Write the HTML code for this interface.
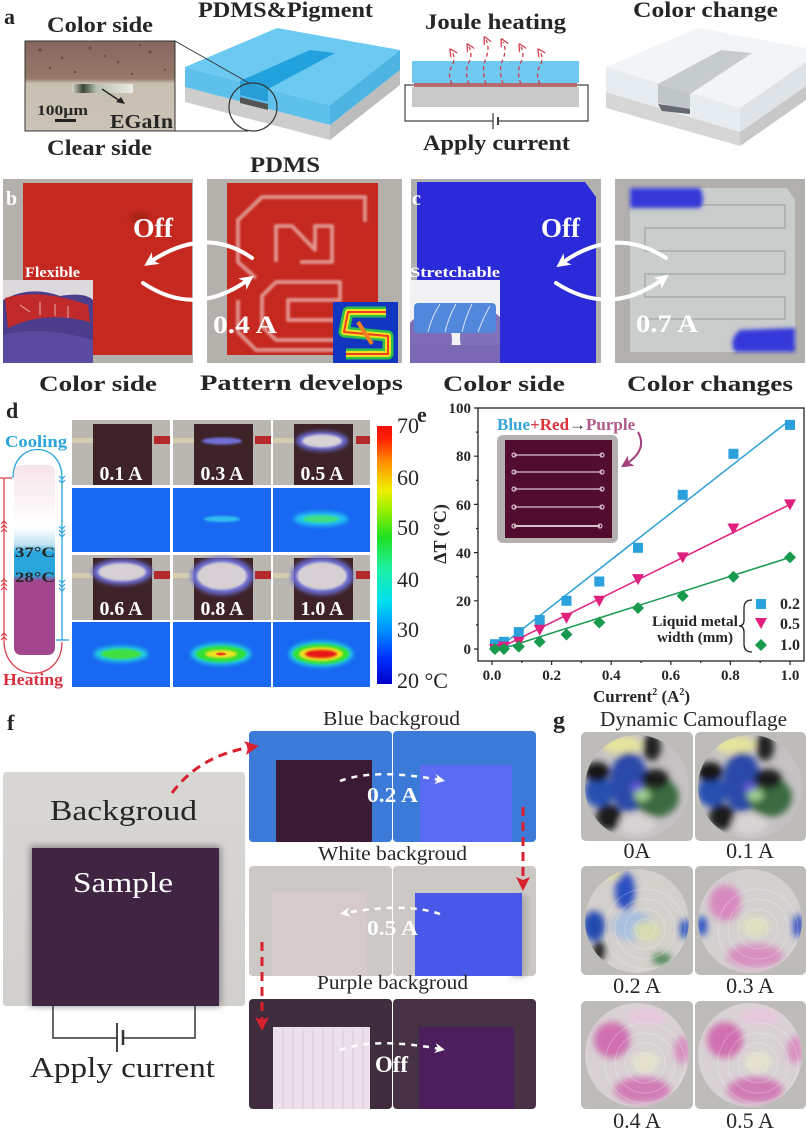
<!DOCTYPE html>
<html><head><meta charset="utf-8">
<style>
html,body{margin:0;padding:0;background:#fff;overflow:hidden;width:806px;height:1131px;}
svg{display:block;}
text{font-family:"Liberation Serif","Times New Roman",serif;fill:#262626;}
.b{font-weight:bold;}
.w{fill:#fff;}
</style></head><body>
<svg width="806" height="1131" viewBox="0 0 806 1131" xmlns="http://www.w3.org/2000/svg">
<defs>
 <filter id="bl1" x="-20%" y="-20%" width="140%" height="140%"><feGaussianBlur stdDeviation="1"/></filter>
 <filter id="bl2" x="-50%" y="-50%" width="200%" height="200%"><feGaussianBlur stdDeviation="2"/></filter>
 <filter id="bl3" x="-50%" y="-50%" width="200%" height="200%"><feGaussianBlur stdDeviation="3.5"/></filter>
 <filter id="bl5" x="-50%" y="-50%" width="200%" height="200%"><feGaussianBlur stdDeviation="5"/></filter>
 <linearGradient id="tube" x1="0" y1="0" x2="0" y2="1">
  <stop offset="0" stop-color="#f6e4ea"/><stop offset="0.33" stop-color="#ffffff"/>
  <stop offset="0.42" stop-color="#bfe2f2"/><stop offset="0.46" stop-color="#2aa6dc"/>
  <stop offset="0.58" stop-color="#2aa6dc"/><stop offset="0.61" stop-color="#a4468e"/>
  <stop offset="1" stop-color="#a4468e"/>
 </linearGradient>
 <linearGradient id="jet" x1="0" y1="1" x2="0" y2="0">
  <stop offset="0" stop-color="#0000c8"/><stop offset="0.1" stop-color="#0030ff"/>
  <stop offset="0.2" stop-color="#0088ff"/><stop offset="0.32" stop-color="#00e0f0"/>
  <stop offset="0.45" stop-color="#20f0a0"/><stop offset="0.57" stop-color="#20e020"/>
  <stop offset="0.68" stop-color="#a0f000"/><stop offset="0.75" stop-color="#f0f000"/>
  <stop offset="0.86" stop-color="#ff9000"/><stop offset="0.95" stop-color="#ff2000"/>
  <stop offset="1" stop-color="#f01010"/>
 </linearGradient>
 <linearGradient id="egain" x1="0" y1="0" x2="1" y2="0">
  <stop offset="0" stop-color="#d8d8cc"/><stop offset="0.18" stop-color="#3c4636"/>
  <stop offset="0.4" stop-color="#b8c0b0"/><stop offset="1" stop-color="#ecece4"/>
 </linearGradient>
 <linearGradient id="micro" x1="0" y1="0" x2="0" y2="1">
  <stop offset="0" stop-color="#86665e"/><stop offset="0.42" stop-color="#977a6c"/>
  <stop offset="0.47" stop-color="#c7bfb0"/><stop offset="1" stop-color="#cbc4b6"/>
 </linearGradient>
 <linearGradient id="fbg" x1="0" y1="0" x2="0" y2="1">
  <stop offset="0" stop-color="#d9d7d4"/><stop offset="1" stop-color="#d2d0cd"/>
 </linearGradient>
 <marker id="wa" markerWidth="14" markerHeight="14" refX="7" refY="7" orient="auto" markerUnits="userSpaceOnUse">
  <path d="M0,0 L14,7 L0,14 L4,7 Z" fill="#fff"/>
 </marker>
 <marker id="wa2" markerWidth="10" markerHeight="10" refX="5" refY="5" orient="auto" markerUnits="userSpaceOnUse">
  <path d="M0,0 L10,5 L0,10 L3,5 Z" fill="#fff"/>
 </marker>
 <marker id="ra" markerWidth="14" markerHeight="14" refX="7" refY="7" orient="auto" markerUnits="userSpaceOnUse">
  <path d="M0,0 L14,7 L0,14 L3,7 Z" fill="#d8202e"/>
 </marker>
 <marker id="rd" markerWidth="8" markerHeight="8" refX="4" refY="4" orient="auto" markerUnits="userSpaceOnUse">
  <path d="M0,0 L8,4 L0,8" fill="none" stroke="#d0404e" stroke-width="1.3"/>
 </marker>
 <marker id="pa" markerWidth="12" markerHeight="12" refX="6" refY="6" orient="auto" markerUnits="userSpaceOnUse">
  <path d="M0,0 L12,6 L0,12 L3,6 Z" fill="#a4407c"/>
 </marker>
 <clipPath id="c1"><circle cx="637" cy="787" r="52"/></clipPath>
 <clipPath id="c2"><circle cx="750" cy="787" r="52"/></clipPath>
 <clipPath id="c3"><circle cx="637" cy="921" r="52"/></clipPath>
 <clipPath id="c4"><circle cx="750" cy="921" r="52"/></clipPath>
 <clipPath id="c5"><circle cx="637" cy="1055" r="52"/></clipPath>
 <clipPath id="c6"><circle cx="750" cy="1055" r="52"/></clipPath>
 <clipPath id="insc"><rect x="410" y="280" width="90" height="83"/></clipPath>
 <clipPath id="insb"><rect x="3" y="280" width="90" height="83"/></clipPath>
</defs>

<!-- ================= Panel a ================= -->
<text x="4" y="24" class="b" font-size="22">a</text>
<text x="47" y="32" class="b" font-size="22" textLength="106" lengthAdjust="spacingAndGlyphs">Color side</text>
<rect x="25" y="41" width="150" height="90" fill="url(#micro)" stroke="#333" stroke-width="1"/>
<g fill="#5a3230" opacity="0.6">
 <circle cx="40" cy="50" r="1.5"/><circle cx="62" cy="58" r="1.2"/><circle cx="90" cy="48" r="1.5"/><circle cx="118" cy="62" r="1.3"/>
 <circle cx="150" cy="52" r="1.5"/><circle cx="165" cy="70" r="1.2"/><circle cx="75" cy="72" r="1.4"/><circle cx="132" cy="74" r="1.2"/>
 <circle cx="50" cy="68" r="1.2"/><circle cx="105" cy="56" r="1"/><circle cx="140" cy="45" r="1"/>
</g>
<rect x="72" y="84" width="61" height="9" fill="url(#egain)"/>
<line x1="102" y1="89" x2="120" y2="101" stroke="#222" stroke-width="1.5"/>
<path d="M125,104 L116,102 L121,97 Z" fill="#222"/>
<text x="37" y="115" class="b" font-size="15" textLength="51" lengthAdjust="spacingAndGlyphs">100µm</text>
<rect x="55" y="119" width="21" height="3" fill="#222"/>
<text x="110" y="128" class="b" font-size="20" textLength="63" lengthAdjust="spacingAndGlyphs">EGaIn</text>
<text x="47" y="155" class="b" font-size="22" textLength="105" lengthAdjust="spacingAndGlyphs">Clear side</text>

<text x="198" y="17" class="b" font-size="22" textLength="175" lengthAdjust="spacingAndGlyphs">PDMS&amp;Pigment</text>
<!-- block 1 -->
<polygon points="185,87 330,125 330,140 185,102" fill="#cdcdcd"/>
<polygon points="330,125 400,70 400,85 330,140" fill="#bdbdbd"/>
<polygon points="185,67 330,105 330,125 185,87" fill="#5ec1ec"/>
<polygon points="330,105 400,50 400,70 330,125" fill="#4eb4e2"/>
<polygon points="185,67 277,28 400,50 330,105" fill="#6ccaf2"/>
<polygon points="310,50 335,53 268,89 240,81" fill="#22a2dc"/>
<polygon points="240,81 268,89 268,102 240,95" fill="#2a9ed6"/>
<polygon points="240,97 268,104 268,110 240,103" fill="#555"/>
<circle cx="253" cy="107" r="24" fill="none" stroke="#333" stroke-width="1.2"/>
<line x1="175" y1="41" x2="249" y2="83" stroke="#333" stroke-width="1"/>
<line x1="175" y1="131" x2="248" y2="131" stroke="#333" stroke-width="1"/>
<text x="250" y="172" class="b" font-size="22" textLength="70" lengthAdjust="spacingAndGlyphs">PDMS</text>

<!-- Joule heating -->
<text x="425" y="29" class="b" font-size="22" textLength="141" lengthAdjust="spacingAndGlyphs">Joule heating</text>
<rect x="412" y="61" width="167" height="22" fill="#6ec8f0"/>
<rect x="412" y="87" width="167" height="20" fill="#c9c9c9"/>
<rect x="414" y="83" width="163" height="4" fill="#b46a6e"/>
<path d="M414,85 H405 V121 H493 M499,121 H588 V85 H577" fill="none" stroke="#444" stroke-width="1.2"/>
<line x1="493" y1="113" x2="493" y2="129" stroke="#444" stroke-width="1.3"/>
<line x1="498" y1="117" x2="498" y2="125" stroke="#444" stroke-width="2"/>
<g fill="none" stroke="#d0404e" stroke-width="1.3" stroke-dasharray="4,3" marker-end="url(#rd)">
 <path d="M452,84 Q447,74 452,66 Q456,58 452,52"/>
 <path d="M469,84 Q464,72 469,62 Q473,54 469,47"/>
 <path d="M486,84 Q481,70 486,58 Q490,48 486,40"/>
 <path d="M503,84 Q498,70 503,59 Q507,50 503,42"/>
 <path d="M521,84 Q516,72 521,62 Q525,54 521,47"/>
 <path d="M540,84 Q535,74 540,66 Q544,58 540,52"/>
</g>
<text x="423" y="150" class="b" font-size="22" textLength="147" lengthAdjust="spacingAndGlyphs">Apply current</text>

<!-- block 2 -->
<text x="633" y="17" class="b" font-size="22" textLength="145" lengthAdjust="spacingAndGlyphs">Color change</text>
<polygon points="606,92 740,132 740,146 606,108" fill="#d6d6d6"/>
<polygon points="740,132 806,86 806,100 740,146" fill="#c8c8c8"/>
<polygon points="606,67 740,108 740,132 606,92" fill="#e6ecef"/>
<polygon points="740,108 806,62 806,86 740,132" fill="#dde3e6"/>
<polygon points="606,67 698,28 806,48 806,62 740,108" fill="#f2f5f7"/>
<polygon points="721,50 752,53 690,94 658,84" fill="#c6cbce"/>
<polygon points="658,84 690,94 690,112 658,103" fill="#c0c5c8"/>
<polygon points="658,104 690,109 690,114 662,111" fill="#646a70"/>

<!-- ================= Panel b ================= -->
<rect x="3" y="179" width="190" height="184" fill="#b4b0ac"/>
<rect x="23" y="183" width="169" height="172" fill="#c4281f"/>
<ellipse cx="140" cy="218" rx="10" ry="6" fill="#a82018" filter="url(#bl2)"/>
<g clip-path="url(#insb)">
<rect x="3" y="280" width="90" height="83" fill="#dcd8dc"/>
<path d="M3,300 Q30,285 60,296 Q85,292 93,300 L93,363 L3,363 Z" fill="#4c3c8c"/>
<path d="M3,335 Q40,325 93,340 L93,363 L3,363 Z" fill="#5a4aa0"/>
<path d="M5,298 Q40,288 88,305 L90,322 Q45,310 8,328 Z" fill="#c12a2a"/>
<path d="M20,305 L30,312 M40,302 L40,315 M55,304 L55,316 M68,306 L68,318" stroke="#e8b0b0" stroke-width="1"/>
</g>
<text x="6" y="205" class="b w" font-size="20">b</text>
<text x="25" y="277" class="b w" font-size="15" textLength="55" lengthAdjust="spacingAndGlyphs">Flexible</text>

<rect x="207" y="179" width="195" height="184" fill="#b4b0ac"/>
<rect x="227" y="183" width="151" height="172" fill="#c4281f"/>
<g fill="none" stroke="#eab4b0" stroke-width="4" stroke-linejoin="round" opacity="0.75" filter="url(#bl1)">
 <path d="M365,222 L365,197 L262,197 L238,220 L238,262 L256,278"/>
 <path d="M276,262 L276,226 L292,226 L315,250 L315,226 L332,226 L332,262 L300,262"/>
 <path d="M340,282 L276,282 L262,296 L262,326 L276,340 L340,340 L340,320 L288,320 L288,300 L340,300 Z"/>
 <path d="M238,300 L238,332 L256,350 L345,350"/>
</g>
<rect x="333" y="302" width="65" height="61" fill="#1236c0"/>
<g fill="none" stroke-linejoin="round">
 <path d="M386,312 L348,312 L344,332 L388,336 L388,354 L346,354" stroke="#2ec048" stroke-width="11"/>
 <path d="M386,312 L348,312 L344,332 L388,336 L388,354 L346,354" stroke="#f0e020" stroke-width="6"/>
 <path d="M386,312 L348,312 L344,332 L388,336 L388,354 L346,354" stroke="#f04020" stroke-width="2"/>
 <path d="M358,322 L372,344" stroke="#f08020" stroke-width="4"/>
</g>
<g fill="none" stroke="#fff" stroke-width="4" stroke-linecap="round">
 <path d="M252,258 Q205,225 150,262" marker-end="url(#wa)"/>
 <path d="M143,283 Q195,318 248,280" marker-end="url(#wa)"/>
</g>
<text x="133" y="237" class="b w" font-size="27" textLength="40" lengthAdjust="spacingAndGlyphs">Off</text>
<text x="213" y="333" class="b w" font-size="25" textLength="64" lengthAdjust="spacingAndGlyphs">0.4 A</text>

<!-- ================= Panel c ================= -->
<rect x="411" y="179" width="190" height="184" fill="#b2b0ad"/>
<polygon points="417,182 585,182 596,197 596,363 417,363" fill="#2b2ad8"/>
<g clip-path="url(#insc)">
<rect x="410" y="280" width="90" height="83" fill="#f2f2f4"/>
<ellipse cx="428" cy="340" rx="24" ry="26" fill="#7e6cb8"/>
<ellipse cx="484" cy="338" rx="24" ry="28" fill="#8070ba"/>
<rect x="410" y="345" width="90" height="18" fill="#7a68b4"/>
<rect x="414" y="303" width="82" height="30" rx="4" fill="#5288dc"/>
<g fill="none" stroke="#d8e4f4" stroke-width="1"><path d="M428,332 Q432,316 440,304 M445,332 Q449,316 456,304 M462,332 Q466,316 472,304 M478,332 Q484,316 490,306"/></g>
</g>
<text x="412" y="205" class="b w" font-size="20">c</text>
<text x="410" y="277" class="b w" font-size="15" textLength="90" lengthAdjust="spacingAndGlyphs">Stretchable</text>

<rect x="615" y="179" width="190" height="184" fill="#b2b0ad"/>
<polygon points="630,188 787,188 795,200 795,345 788,352 630,352" fill="#c9cdcc"/>
<g fill="none" stroke="#a9aeae" stroke-width="2" opacity="0.8">
 <path d="M640,205 H785 V228 H645 V251 H785 V274 H645 V297 H785 V319 H640"/>
</g>
<path d="M630,188 L700,188 Q706,200 700,208 L630,208 Z" fill="#3438d8" filter="url(#bl2)"/>
<path d="M740,330 L795,328 L795,352 L735,352 Q728,340 740,330 Z" fill="#3438d8" filter="url(#bl2)"/>
<g fill="none" stroke="#fff" stroke-width="4" stroke-linecap="round">
 <path d="M666,258 Q615,225 562,263" marker-end="url(#wa)"/>
 <path d="M556,283 Q610,318 663,279" marker-end="url(#wa)"/>
</g>
<text x="541" y="237" class="b w" font-size="27" textLength="39" lengthAdjust="spacingAndGlyphs">Off</text>
<text x="636" y="332" class="b w" font-size="25" textLength="62" lengthAdjust="spacingAndGlyphs">0.7 A</text>

<!-- labels row -->
<text x="39" y="391" class="b" font-size="22" textLength="118" lengthAdjust="spacingAndGlyphs">Color side</text>
<text x="200" y="390" class="b" font-size="22" textLength="203" lengthAdjust="spacingAndGlyphs">Pattern  develops</text>
<text x="443" y="391" class="b" font-size="22" textLength="122" lengthAdjust="spacingAndGlyphs">Color side</text>
<text x="627" y="391" class="b" font-size="22" textLength="166" lengthAdjust="spacingAndGlyphs">Color changes</text>

<!-- ================= Panel d ================= -->
<text x="6" y="418" class="b" font-size="22">d</text>
<text x="5" y="447" class="b" font-size="17" style="fill:#2aa4dc" textLength="62" lengthAdjust="spacingAndGlyphs">Cooling</text>
<path d="M13,478 C13,440 62,440 62,478 L62,640" fill="none" stroke="#2aa4dc" stroke-width="1.3"/>
<line x1="56" y1="640" x2="69" y2="640" stroke="#2aa4dc" stroke-width="1.3"/>
<path d="M0,478 L12,478 M4,478 L4,640 C4,684 62,684 62,642" fill="none" stroke="#d8404e" stroke-width="1.3"/>
<g fill="none" stroke="#2aa4dc" stroke-width="1.2">
 <path d="M59,476 L62,479 L65,476 M59,480 L62,483 L65,480"/>
 <path d="M59,526 L62,529 L65,526 M59,530 L62,533 L65,530 M59,534 L62,537 L65,534"/>
 <path d="M59,580 L62,583 L65,580 M59,584 L62,587 L65,584 M59,588 L62,591 L65,588"/>
</g>
<g fill="none" stroke="#d8404e" stroke-width="1.2">
 <path d="M1,524 L4,521 L7,524 M1,528 L4,525 L7,528 M1,532 L4,529 L7,532"/>
 <path d="M1,582 L4,579 L7,582 M1,586 L4,583 L7,586 M1,590 L4,587 L7,590"/>
 <path d="M1,636 L4,633 L7,636 M1,640 L4,637 L7,640"/>
</g>
<rect x="14" y="465" width="41" height="190" rx="7" fill="url(#tube)"/>
<text x="15" y="557" class="b" font-size="15" textLength="40" lengthAdjust="spacingAndGlyphs">37°C</text>
<text x="15" y="582" class="b" font-size="15" textLength="40" lengthAdjust="spacingAndGlyphs">28°C</text>
<text x="3" y="685" class="b" font-size="17" style="fill:#d8303e" textLength="60" lengthAdjust="spacingAndGlyphs">Heating</text>

<g>
 <rect x="72" y="420" width="98" height="65" fill="#bab7b1"/>
 <rect x="173" y="420" width="98" height="65" fill="#bab7b1"/>
 <rect x="273" y="420" width="97" height="65" fill="#bab7b1"/>
 <rect x="72" y="555" width="98" height="65" fill="#bab7b1"/>
 <rect x="173" y="555" width="98" height="65" fill="#bab7b1"/>
 <rect x="273" y="555" width="97" height="65" fill="#bab7b1"/>
 <g fill="#d4cdb0">
  <rect x="72" y="438" width="22" height="5"/><rect x="173" y="438" width="22" height="5"/><rect x="273" y="438" width="22" height="5"/>
  <rect x="72" y="573" width="22" height="5"/><rect x="173" y="573" width="22" height="5"/><rect x="273" y="573" width="22" height="5"/>
 </g>
 <g fill="#b42a2c">
  <rect x="154" y="436" width="16" height="8"/><rect x="255" y="436" width="16" height="8"/><rect x="356" y="436" width="14" height="8"/>
  <rect x="154" y="571" width="16" height="8"/><rect x="255" y="571" width="16" height="8"/><rect x="356" y="571" width="14" height="8"/>
 </g>
 <g fill="#3d2228">
  <rect x="93" y="424" width="59" height="61"/><rect x="194" y="424" width="59" height="61"/><rect x="294" y="424" width="59" height="61"/>
  <rect x="93" y="558" width="59" height="62"/><rect x="194" y="558" width="59" height="62"/><rect x="294" y="558" width="59" height="62"/>
 </g>
 <ellipse cx="222" cy="441" rx="20" ry="3.5" fill="#7070d8" filter="url(#bl1)"/>
 <ellipse cx="322" cy="441" rx="26" ry="10" fill="#6a6ad0" filter="url(#bl2)"/>
 <ellipse cx="322" cy="441" rx="20" ry="6.5" fill="#d8d2d6" filter="url(#bl1)"/>
 <ellipse cx="122" cy="572" rx="30" ry="13" fill="#6a6ad0" filter="url(#bl2)"/>
 <ellipse cx="122" cy="572" rx="24" ry="9" fill="#d6d0d4" filter="url(#bl1)"/>
 <ellipse cx="222" cy="576" rx="31" ry="19" fill="#6a6ad0" filter="url(#bl2)"/>
 <ellipse cx="222" cy="576" rx="25" ry="14" fill="#d6d0d4" filter="url(#bl1)"/>
 <ellipse cx="322" cy="576" rx="31" ry="19" fill="#6a6ad0" filter="url(#bl2)"/>
 <ellipse cx="322" cy="576" rx="25" ry="14" fill="#d6d0d4" filter="url(#bl1)"/>
 <g class="b" font-size="20" text-anchor="middle">
  <text x="121" y="480" class="b w" textLength="43" lengthAdjust="spacingAndGlyphs">0.1 A</text>
  <text x="222" y="480" class="b w" textLength="43" lengthAdjust="spacingAndGlyphs">0.3 A</text>
  <text x="322" y="480" class="b w" textLength="43" lengthAdjust="spacingAndGlyphs">0.5 A</text>
  <text x="121" y="615" class="b w" textLength="43" lengthAdjust="spacingAndGlyphs">0.6 A</text>
  <text x="222" y="615" class="b w" textLength="43" lengthAdjust="spacingAndGlyphs">0.8 A</text>
  <text x="322" y="615" class="b w" textLength="43" lengthAdjust="spacingAndGlyphs">1.0 A</text>
 </g>
</g>
<g>
 <rect x="72" y="488" width="98" height="64" fill="#1868f2"/>
 <rect x="173" y="488" width="98" height="64" fill="#1868f2"/>
 <rect x="273" y="488" width="97" height="64" fill="#1868f2"/>
 <rect x="72" y="622" width="98" height="65" fill="#1868f2"/>
 <rect x="173" y="622" width="98" height="65" fill="#1868f2"/>
 <rect x="273" y="622" width="97" height="65" fill="#1868f2"/>
 <ellipse cx="222" cy="519" rx="18" ry="3" fill="#30c0f0" filter="url(#bl1)"/>
 <ellipse cx="321" cy="519" rx="27" ry="7" fill="#20c8f0" filter="url(#bl2)"/>
 <ellipse cx="321" cy="519" rx="18" ry="3.5" fill="#40e080" filter="url(#bl1)"/>
 <ellipse cx="121" cy="654" rx="27" ry="8" fill="#20d0e0" filter="url(#bl2)"/>
 <ellipse cx="121" cy="654" rx="20" ry="5" fill="#40e040" filter="url(#bl1)"/>
 <ellipse cx="221" cy="654" rx="30" ry="11" fill="#20d0e0" filter="url(#bl2)"/>
 <ellipse cx="221" cy="654" rx="25" ry="8" fill="#30e030" filter="url(#bl1)"/>
 <ellipse cx="221" cy="654" rx="16" ry="4" fill="#f0e020" filter="url(#bl1)"/>
 <ellipse cx="221" cy="654" rx="5" ry="1.5" fill="#f04020"/>
 <ellipse cx="321" cy="654" rx="32" ry="13" fill="#20d0e0" filter="url(#bl2)"/>
 <ellipse cx="321" cy="654" rx="28" ry="10" fill="#30e030" filter="url(#bl1)"/>
 <ellipse cx="321" cy="654" rx="22" ry="7" fill="#f0e020" filter="url(#bl1)"/>
 <ellipse cx="321" cy="654" rx="16" ry="4" fill="#e81818" filter="url(#bl1)"/>
</g>
<rect x="377" y="426" width="15" height="258" fill="url(#jet)"/>
<g font-size="22">
 <text x="397" y="433">70</text><text x="397" y="485">60</text><text x="397" y="535">50</text>
 <text x="397" y="587">40</text><text x="397" y="637">30</text><text x="397" y="688">20 °C</text>
</g>

<!-- ================= Panel e ================= -->
<text x="417" y="422" class="b" font-size="22">e</text>
<rect x="478" y="408" width="326" height="253" fill="none" stroke="#222" stroke-width="1.3"/>
<g stroke="#222" stroke-width="1.2">
 <path d="M474,649 H478 M474,600.8 H478 M474,552.6 H478 M474,504.4 H478 M474,456.2 H478 M474,408 H478"/>
 <path d="M476,624.9 H478 M476,576.7 H478 M476,528.5 H478 M476,480.3 H478 M476,432.1 H478"/>
 <path d="M492,661 V665 M551.6,661 V665 M611.2,661 V665 M670.8,661 V665 M730.4,661 V665 M790,661 V665"/>
 <path d="M521.8,661 V663 M581.4,661 V663 M641,661 V663 M700.6,661 V663 M760.2,661 V663"/>
</g>
<g class="b" font-size="15" text-anchor="end">
 <text x="471" y="654" class="b">0</text><text x="471" y="606" class="b">20</text>
 <text x="471" y="558" class="b">40</text><text x="471" y="510" class="b">60</text>
 <text x="471" y="461" class="b">80</text><text x="471" y="413" class="b">100</text>
</g>
<g font-size="15" text-anchor="middle">
 <text x="492" y="680" class="b">0.0</text><text x="551.6" y="680" class="b">0.2</text>
 <text x="611.2" y="680" class="b">0.4</text><text x="670.8" y="680" class="b">0.6</text>
 <text x="730.4" y="680" class="b">0.8</text><text x="790" y="680" class="b">1.0</text>
</g>
<text x="593" y="702" class="b" font-size="17">Current<tspan font-size="10" dy="-7">2</tspan><tspan dy="7"> (A</tspan><tspan font-size="10" dy="-7">2</tspan><tspan dy="7">)</tspan></text>
<text transform="translate(446,534) rotate(-90)" class="b" font-size="18" text-anchor="middle">ΔT (°C)</text>

<rect x="497" y="435" width="121" height="108" rx="6" fill="#b4b0b0"/>
<rect x="505" y="440" width="107" height="98" fill="#520c30"/>
<g stroke="#d8c0cc" stroke-width="1.2" fill="none">
 <path d="M514,455 H602 M514,472 H602 M514,489 H602 M514,507 H602"/>
 <path d="M514,526 H600" stroke-width="2"/>
 <circle cx="514" cy="455" r="2"/><circle cx="514" cy="472" r="2"/><circle cx="514" cy="489" r="2"/><circle cx="514" cy="507" r="2"/><circle cx="514" cy="526" r="2"/>
 <circle cx="602" cy="455" r="2"/><circle cx="602" cy="472" r="2"/><circle cx="602" cy="489" r="2"/><circle cx="602" cy="507" r="2"/><circle cx="600" cy="526" r="2"/>
</g>
<text x="497" y="430" class="b" font-size="17"><tspan style="fill:#36a4da">Blue</tspan><tspan style="fill:#d8404e">+</tspan><tspan style="fill:#e0303a">Red</tspan><tspan style="fill:#333">→</tspan><tspan style="fill:#b05a8c">Purple</tspan></text>
<path d="M638,432 Q648,450 626,464" fill="none" stroke="#a4407c" stroke-width="2" marker-end="url(#pa)"/>

<line x1="497" y1="649" x2="790" y2="420" stroke="#2e9fd6" stroke-width="1.5"/>
<line x1="492" y1="652" x2="790" y2="504.4" stroke="#e0207e" stroke-width="1.5"/>
<line x1="492" y1="652" x2="790" y2="557.4" stroke="#17994e" stroke-width="1.5"/>
<g fill="#2aa0dc">
 <rect x="490" y="639.2" width="10" height="10"/><rect x="498.9" y="636.8" width="10" height="10"/>
 <rect x="513.8" y="627.1" width="10" height="10"/><rect x="534.7" y="615.1" width="10" height="10"/>
 <rect x="561.5" y="595.8" width="10" height="10"/><rect x="594.3" y="576.5" width="10" height="10"/>
 <rect x="633" y="542.8" width="10" height="10"/><rect x="677.7" y="489.8" width="10" height="10"/>
 <rect x="728.4" y="448.8" width="10" height="10"/><rect x="785" y="419.9" width="10" height="10"/>
</g>
<g fill="#e0207e">
 <path d="M489,644 h12 l-6,11 z"/><path d="M497.9,641.6 h12 l-6,11 z"/><path d="M512.8,636.8 h12 l-6,11 z"/>
 <path d="M533.7,624.7 h12 l-6,11 z"/><path d="M560.5,612.7 h12 l-6,11 z"/><path d="M593.3,595.8 h12 l-6,11 z"/>
 <path d="M632,574.1 h12 l-6,11 z"/><path d="M676.7,552.4 h12 l-6,11 z"/><path d="M727.4,523.5 h12 l-6,11 z"/>
 <path d="M784,499.4 h12 l-6,11 z"/>
</g>
<g fill="#17994e">
 <path d="M495,643 l6,6 l-6,6 l-6,-6 z"/><path d="M503.9,643 l6,6 l-6,6 l-6,-6 z"/><path d="M518.8,640.6 l6,6 l-6,6 l-6,-6 z"/>
 <path d="M539.7,635.8 l6,6 l-6,6 l-6,-6 z"/><path d="M566.5,628.5 l6,6 l-6,6 l-6,-6 z"/><path d="M599.3,616.5 l6,6 l-6,6 l-6,-6 z"/>
 <path d="M638,602 l6,6 l-6,6 l-6,-6 z"/><path d="M682.7,590 l6,6 l-6,6 l-6,-6 z"/><path d="M733.4,570.7 l6,6 l-6,6 l-6,-6 z"/>
 <path d="M790,551.4 l6,6 l-6,6 l-6,-6 z"/>
</g>
<text x="652" y="626" class="b" font-size="15" textLength="86" lengthAdjust="spacingAndGlyphs">Liquid metal</text>
<text x="657" y="642" class="b" font-size="15" textLength="76" lengthAdjust="spacingAndGlyphs">width (mm)</text>
<path d="M752,600 Q744,600 744,608 L744,620 Q744,626 739,626 Q744,626 744,632 L744,644 Q744,652 752,652" fill="none" stroke="#222" stroke-width="1.3"/>
<rect x="756" y="599" width="10" height="10" fill="#2aa0dc"/>
<path d="M755,618 h12 l-6,11 z" fill="#e0207e"/>
<path d="M761,639 l6,6 l-6,6 l-6,-6 z" fill="#17994e"/>
<text x="780" y="609" class="b" font-size="16">0.2</text>
<text x="780" y="629" class="b" font-size="16">0.5</text>
<text x="780" y="650" class="b" font-size="16">1.0</text>

<!-- ================= Panel f ================= -->
<text x="7" y="730" class="b" font-size="22">f</text>
<rect x="3" y="772" width="242" height="234" rx="3" fill="url(#fbg)"/>
<rect x="30" y="846" width="191" height="160" fill="#8a868a" filter="url(#bl3)"/>
<rect x="32" y="848" width="187" height="158" fill="#3f2541"/>
<text x="50" y="820" font-size="29" textLength="147" lengthAdjust="spacingAndGlyphs">Backgroud</text>
<text x="73" y="892" font-size="29" class="w" textLength="100" lengthAdjust="spacingAndGlyphs">Sample</text>
<path d="M53,1006 V1038 H117 M123,1038 H195 V1006" fill="none" stroke="#333" stroke-width="1.5"/>
<line x1="117" y1="1023" x2="117" y2="1052" stroke="#333" stroke-width="1.8"/>
<line x1="123" y1="1030" x2="123" y2="1045" stroke="#333" stroke-width="2.5"/>
<text x="30" y="1077" font-size="29" textLength="185" lengthAdjust="spacingAndGlyphs">Apply current</text>

<text x="323" y="725" font-size="20" textLength="137" lengthAdjust="spacingAndGlyphs">Blue backgroud</text>
<rect x="249" y="731" width="143" height="111" rx="4" fill="#3c7ad8"/>
<rect x="393" y="731" width="143" height="111" rx="4" fill="#3c7ad8"/>
<rect x="276" y="760" width="96" height="82" fill="#3a1a34"/>
<rect x="420" y="765" width="92" height="77" fill="#5c6cf2"/>
<text x="318" y="860" font-size="20" textLength="149" lengthAdjust="spacingAndGlyphs">White backgroud</text>
<rect x="249" y="866" width="143" height="110" rx="4" fill="#cbc8c5"/>
<rect x="393" y="866" width="143" height="110" rx="4" fill="#cbc8c5"/>
<rect x="272" y="892" width="95" height="84" fill="#d6caca"/>
<rect x="512" y="896" width="14" height="80" fill="#a8a6a4" filter="url(#bl3)"/>
<rect x="415" y="893" width="107" height="83" fill="#4858e8"/>
<text x="317" y="989" font-size="20" textLength="151" lengthAdjust="spacingAndGlyphs">Purple backgroud</text>
<rect x="249" y="999" width="143" height="110" rx="4" fill="#3f2c3c"/>
<rect x="393" y="999" width="143" height="110" rx="4" fill="#463244"/>
<rect x="273" y="1027" width="97" height="82" fill="#ebe0eb"/>
<g stroke="#d8cad8" stroke-width="1"><path d="M283,1028 V1109 M293,1028 V1109 M303,1028 V1109 M313,1028 V1109 M323,1028 V1109 M333,1028 V1109 M343,1028 V1109 M353,1028 V1109 M363,1028 V1109"/></g>
<rect x="419" y="1027" width="95" height="82" fill="#4c1f5c"/>
<g fill="none" stroke="#fff" stroke-width="2.5" stroke-dasharray="6,6">
 <path d="M340,781 Q375,768 440,780" marker-end="url(#wa2)"/>
 <path d="M440,914 Q405,902 345,913" marker-end="url(#wa2)"/>
 <path d="M340,1050 Q375,1037 440,1049" marker-end="url(#wa2)"/>
</g>
<text x="367" y="802" class="b w" font-size="21" textLength="51" lengthAdjust="spacingAndGlyphs">0.2 A</text>
<text x="367" y="935" class="b w" font-size="21" textLength="51" lengthAdjust="spacingAndGlyphs">0.5 A</text>
<text x="375" y="1072" class="b w" font-size="23" textLength="33" lengthAdjust="spacingAndGlyphs">Off</text>
<g fill="none" stroke="#d8202e" stroke-width="3" stroke-dasharray="9,6">
 <path d="M172,793 Q200,755 252,747" marker-end="url(#ra)"/>
 <path d="M523,807 V884" marker-end="url(#ra)"/>
 <path d="M262,942 V1024" marker-end="url(#ra)"/>
</g>

<!-- ================= Panel g ================= -->
<text x="553" y="728" class="b" font-size="24">g</text>
<text x="600" y="726" font-size="21" textLength="187" lengthAdjust="spacingAndGlyphs">Dynamic Camouflage</text>
<g fill="#bebcb8">
 <rect x="581" y="732" width="112" height="109" rx="5"/><rect x="695" y="732" width="111" height="109" rx="5"/>
 <rect x="581" y="866" width="112" height="109" rx="5"/><rect x="695" y="866" width="111" height="109" rx="5"/>
 <rect x="581" y="1001" width="112" height="108" rx="5"/><rect x="695" y="1001" width="111" height="108" rx="5"/>
</g>
<g clip-path="url(#c1)">
 <circle cx="637" cy="787" r="52" fill="#c6c2c4"/>
 <g filter="url(#bl3)">
  <ellipse cx="622" cy="745" rx="20" ry="9" fill="#e6e49c"/>
  <ellipse cx="629" cy="782" rx="19" ry="30" fill="#2a4aa8"/>
  <ellipse cx="599" cy="792" rx="15" ry="15" fill="#2650b0"/>
  <ellipse cx="597" cy="772" rx="13" ry="10" fill="#181818"/>
  <ellipse cx="609" cy="817" rx="13" ry="13" fill="#1a1a1a"/>
  <ellipse cx="657" cy="797" rx="22" ry="20" fill="#3a6a40"/>
  <ellipse cx="652" cy="747" rx="9" ry="14" fill="#202020"/>
  <ellipse cx="655" cy="779" rx="14" ry="10" fill="#1c1c1c"/>
  <ellipse cx="637" cy="824" rx="18" ry="10" fill="#d8d4d4"/>
  <ellipse cx="642" cy="795" rx="8" ry="6" fill="#a0d090"/>
  <ellipse cx="637" cy="787" rx="6" ry="4" fill="#6a5ae0"/>
 </g>
</g>
<g clip-path="url(#c2)">
 <circle cx="750" cy="787" r="52" fill="#c6c2c4"/>
 <g filter="url(#bl3)">
  <ellipse cx="735" cy="745" rx="20" ry="9" fill="#e6e49c"/>
  <ellipse cx="742" cy="782" rx="19" ry="30" fill="#2a4aa8"/>
  <ellipse cx="712" cy="792" rx="15" ry="15" fill="#2650b0"/>
  <ellipse cx="710" cy="772" rx="13" ry="10" fill="#181818"/>
  <ellipse cx="722" cy="817" rx="13" ry="13" fill="#1a1a1a"/>
  <ellipse cx="770" cy="797" rx="22" ry="20" fill="#3a6a40"/>
  <ellipse cx="765" cy="747" rx="9" ry="14" fill="#202020"/>
  <ellipse cx="768" cy="779" rx="14" ry="10" fill="#1c1c1c"/>
  <ellipse cx="750" cy="824" rx="18" ry="10" fill="#d8d4d4"/>
  <ellipse cx="755" cy="795" rx="8" ry="6" fill="#a0d090"/>
  <ellipse cx="750" cy="787" rx="6" ry="4" fill="#6a5ae0"/>
 </g>
</g>
<g clip-path="url(#c3)">
 <circle cx="637" cy="921" r="52" fill="#d4d0cc"/>
 <g filter="url(#bl3)">
  <ellipse cx="632" cy="926" rx="20" ry="15" fill="#a8c0e0"/>
  <ellipse cx="647" cy="931" rx="14" ry="10" fill="#d8dcb0"/>
  <ellipse cx="625" cy="891" rx="10" ry="19" fill="#2a50c0"/>
  <ellipse cx="594" cy="926" rx="11" ry="15" fill="#2448b0"/>
  <ellipse cx="599" cy="951" rx="6" ry="10" fill="#222"/>
  <ellipse cx="685" cy="929" rx="5" ry="10" fill="#2850c0"/>
  <ellipse cx="662" cy="959" rx="10" ry="6" fill="#5a8a60"/>
  <ellipse cx="612" cy="874" rx="10" ry="5" fill="#e0e0a0"/>
 </g>
</g>
<g clip-path="url(#c4)">
 <circle cx="750" cy="921" r="52" fill="#d4d0d0"/>
 <g filter="url(#bl3)">
  <ellipse cx="725" cy="903" rx="16" ry="18" fill="#d88ac0"/>
  <ellipse cx="755" cy="956" rx="28" ry="12" fill="#d890c0"/>
  <ellipse cx="755" cy="926" rx="14" ry="10" fill="#e0e0c0"/>
  <ellipse cx="702" cy="926" rx="5" ry="10" fill="#2850c0"/>
  <ellipse cx="798" cy="926" rx="5" ry="12" fill="#3050c0"/>
 </g>
</g>
<g clip-path="url(#c5)">
 <circle cx="637" cy="1055" r="52" fill="#d8d2d4"/>
 <g filter="url(#bl3)">
  <ellipse cx="612" cy="1040" rx="18" ry="18" fill="#d070b0"/>
  <ellipse cx="642" cy="1090" rx="28" ry="13" fill="#d27cb6"/>
  <ellipse cx="682" cy="1050" rx="8" ry="14" fill="#d890c0"/>
  <ellipse cx="647" cy="1017" rx="20" ry="8" fill="#e8c8dc"/>
  <ellipse cx="645" cy="1062" rx="14" ry="10" fill="#e4e2cc"/>
 </g>
</g>
<g clip-path="url(#c6)">
 <circle cx="750" cy="1055" r="52" fill="#d8d2d4"/>
 <g filter="url(#bl3)">
  <ellipse cx="725" cy="1040" rx="18" ry="18" fill="#d070b0"/>
  <ellipse cx="755" cy="1090" rx="28" ry="13" fill="#d27cb6"/>
  <ellipse cx="795" cy="1050" rx="8" ry="14" fill="#d890c0"/>
  <ellipse cx="760" cy="1017" rx="20" ry="8" fill="#e8c8dc"/>
  <ellipse cx="758" cy="1062" rx="14" ry="10" fill="#e4e2cc"/>
 </g>
</g>
<g fill="none" stroke="#ffffff" stroke-opacity="0.25" stroke-width="1">
 <circle cx="645" cy="929" r="10"/><circle cx="645" cy="929" r="20"/><circle cx="645" cy="929" r="30"/><circle cx="645" cy="929" r="40"/>
 <circle cx="758" cy="929" r="10"/><circle cx="758" cy="929" r="20"/><circle cx="758" cy="929" r="30"/><circle cx="758" cy="929" r="40"/>
 <circle cx="645" cy="1063" r="10"/><circle cx="645" cy="1063" r="20"/><circle cx="645" cy="1063" r="30"/><circle cx="645" cy="1063" r="40"/>
 <circle cx="758" cy="1063" r="10"/><circle cx="758" cy="1063" r="20"/><circle cx="758" cy="1063" r="30"/><circle cx="758" cy="1063" r="40"/>
</g>
<g font-size="22" text-anchor="middle">
 <text x="637" y="858">0A</text><text x="750" y="858">0.1 A</text>
 <text x="637" y="993">0.2 A</text><text x="750" y="993">0.3 A</text>
 <text x="637" y="1128">0.4 A</text><text x="750" y="1128">0.5 A</text>
</g>
</svg>
</body></html>
